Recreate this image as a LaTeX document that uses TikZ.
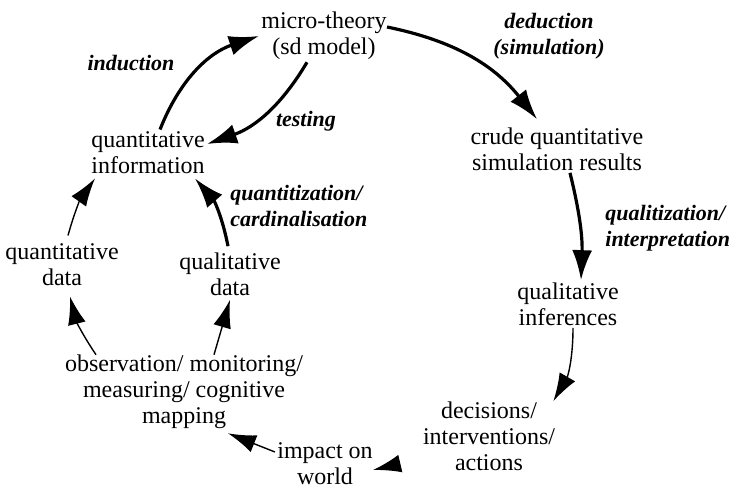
\documentclass[tikz,border=0pt]{standalone}
\usepackage{fontspec}
\setmainfont{Liberation Serif}
\usetikzlibrary{arrows.meta, calc}

\tikzset{
  concept/.style={align=center, inner sep=1pt, font=\fontsize{12}{13}\selectfont},
  arclabel/.style={inner sep=0pt, font=\fontsize{11}{12.8}\selectfont\bfseries\itshape},
  bigarrow/.style={-{Latex[length=15pt,width=10pt]}, line width=1.6pt},
  smallarrow/.style={-{Latex[length=14pt,width=9pt]}, line width=0.7pt},
}

\begin{document}
\begin{tikzpicture}[x=0.5pt, y=-0.5pt]
    \useasboundingbox (0,0) rectangle (730,488);

    % the cycle
    \node[concept] (micro) at (324,36) {micro-theory\\(sd model)};
    \node[concept] (crude) at (557,149) {crude quantitative\\simulation results};
    \node[concept] (qualinf) at (568,304) {qualitative\\inferences};
    \node[concept] (decisions) at (489,436) {decisions/\\interventions/\\actions};
    \node[concept] (impact) at (325,464) {impact on\\world};
    \node[concept] (observ) at (184,392) {observation/ monitoring/\\measuring/ cognitive\\mapping};
    \node[concept] (quantdata) at (62,265) {quantitative\\data};
    \node[concept] (qualdata) at (230,274) {qualitative\\data};
    \node[concept] (qinfo) at (148,153) {quantitative\\information};

    % arc labels
    \node[arclabel] (lind) at (131,63) {induction};
    \node[arclabel] (ltest) at (306,121) {testing};
    \node[arclabel, align=center] (lded) at (549,36) {deduction\\(simulation)};
    \node[arclabel, align=left, anchor=west] (lqual) at (605,228) {qualitization/\\interpretation};
    \node[arclabel, align=left, anchor=west] (lquant) at (230,206) {quantitization/\\cardinalisation};

    \draw[bigarrow] ($(qinfo.north)+(12,0)$) to[bend left=25] (micro.west);
    \draw[bigarrow] ($(micro.south)+(-17,0)$) to[bend left=20] ($(qinfo.east)+(0,-9)$);
    \draw[bigarrow] ($(micro.east)+(-2,-9)$) to[bend left=20] ($(crude.north)+(-20,-6)$);
    \draw[bigarrow] ($(crude.south)+(13,0)$) to[bend left=8] ($(qualinf.north)+(13,0)$);
    \draw[smallarrow] ($(qualinf.south)+(5,0)$) to[bend left=15] ($(decisions.north east)+(-4,2)$);
    \draw[smallarrow] ($(decisions.west)+(-22,28)$) -- ($(impact.east)+(-2,6)$);
    \draw[smallarrow] ($(impact.west)+(0,-12)$) -- ($(observ.south)+(44,2)$);
    \draw[smallarrow] ($(observ.north)+(-88,2)$) to[bend left=10] ($(quantdata.south)+(8,8)$);
    \draw[smallarrow] ($(observ.north)+(30,2)$) -- ($(qualdata.south)+(0,2)$);
    \draw[smallarrow] ($(quantdata.north)+(6,-6)$) to[bend left=10] ($(qinfo.south)+(-53,2)$);
    \draw[bigarrow] ($(qualdata.north)+(-2,-4)$) to[bend right=15] ($(qinfo.south)+(47,2)$);
\end{tikzpicture}
\end{document}
